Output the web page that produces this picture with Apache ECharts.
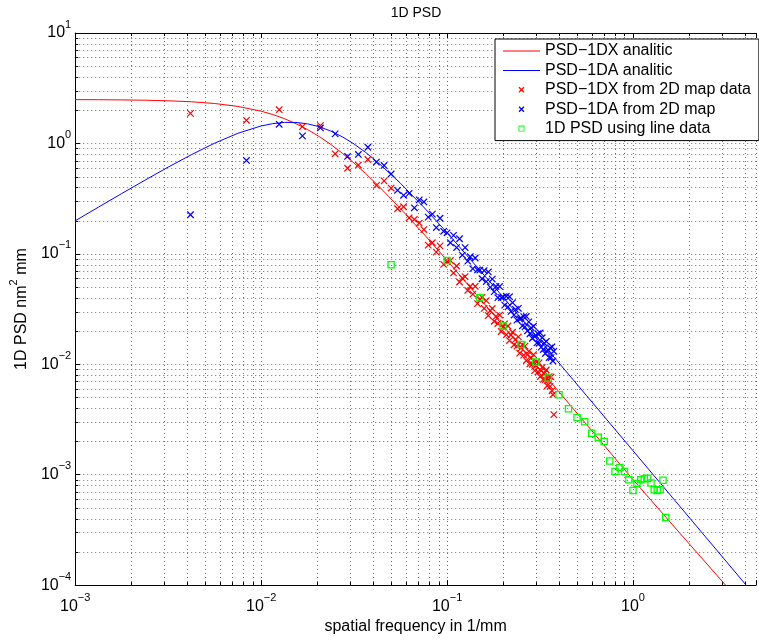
<!DOCTYPE html>
<html>
<head>
<meta charset="utf-8">
<script src="https://cdn.jsdelivr.net/npm/echarts@6/dist/echarts.min.js"></script>
<style>html,body{margin:0;padding:0;background:#fff;}#c{width:759px;height:640px;}</style>
</head>
<body>
<div id="c"></div>
<script>
// ---------- data ----------
const X_MIN = 0.001, X_MAX = 4.587, Y_MIN = 1e-4, Y_MAX = 10;

// analytic curves (sampled)
const lineFreq = [0.001, 0.001334, 0.001778, 0.002371, 0.003162, 0.004217, 0.005623, 0.0075, 0.01, 0.01155, 0.01334, 0.0154, 0.01778, 0.02054, 0.02371, 0.02738, 0.03162, 0.03652, 0.04217, 0.05623, 0.075, 0.1, 0.1778, 0.3162, 0.5623, 1, 1.778, 3.162, 5.0];
const psdXAnalitic = [2.493, 2.488, 2.478, 2.462, 2.433, 2.383, 2.299, 2.163, 1.958, 1.826, 1.675, 1.509, 1.333, 1.153, 0.978, 0.813, 0.663, 0.533, 0.422, 0.256, 0.151, 0.0871, 0.0282, 0.00899, 0.00285, 0.000902, 0.000298, 0.000099, 0.000041];
const psdAAnalitic = [0.1993, 0.265, 0.3515, 0.4646, 0.610, 0.791, 1.0055, 1.236, 1.440, 1.511, 1.550, 1.549, 1.504, 1.417, 1.293, 1.146, 0.987, 0.828, 0.680, 0.4347, 0.264, 0.1553, 0.05116, 0.01639, 0.005203, 0.001648, 0.0005214, 0.0001649, 0.0000657];

// 2D map derived points
const mapFreq = [0.004167, 0.008333, 0.0125, 0.01667, 0.02083, 0.025, 0.02917, 0.03333, 0.0375, 0.04167,
  0.04583, 0.05, 0.05417, 0.05833, 0.0625, 0.06667, 0.07083, 0.075, 0.07917, 0.08333,
  0.0875, 0.09167, 0.09583, 0.1, 0.1042, 0.1083, 0.1125, 0.1167, 0.1208, 0.125,
  0.1292, 0.1333, 0.1375, 0.1417, 0.1458, 0.15, 0.1542, 0.1583, 0.1625, 0.1667,
  0.1708, 0.175, 0.1792, 0.1833, 0.1875, 0.1917, 0.1958, 0.2, 0.2042, 0.2083,
  0.2125, 0.2167, 0.2208, 0.225, 0.2292, 0.2333, 0.2375, 0.2417, 0.2458, 0.25,
  0.2542, 0.2583, 0.2625, 0.2667, 0.2708, 0.275, 0.2792, 0.2833, 0.2875, 0.2917,
  0.2958, 0.3, 0.3042, 0.3083, 0.3125, 0.3167, 0.3208, 0.325, 0.3292, 0.3333,
  0.3375, 0.3417, 0.3458, 0.35, 0.3542, 0.3583, 0.3625, 0.3667, 0.3708, 0.375];
const psdXMap = [1.87, 1.62, 2.02, 1.42, 1.45, 0.805, 0.596, 0.637, 0.716, 0.417,
  0.458, 0.394, 0.256, 0.267, 0.212, 0.205, 0.19, 0.166, 0.120, 0.126,
  0.1036, 0.118, 0.0803, 0.0845, 0.0869, 0.0671, 0.0776, 0.0556, 0.0603, 0.0622,
  0.0466, 0.0508, 0.0431, 0.0508, 0.0354, 0.0383, 0.0404, 0.0320, 0.0377, 0.0276,
  0.0305, 0.0320, 0.0245, 0.0271, 0.0234, 0.0279, 0.0198, 0.0217, 0.0232, 0.0185,
  0.0222, 0.0164, 0.0184, 0.0195, 0.0150, 0.0168, 0.0146, 0.0177, 0.0126, 0.0140,
  0.0150, 0.0121, 0.0146, 0.0108, 0.0122, 0.0131, 0.0101, 0.0114, 0.0100, 0.0122,
  0.00876, 0.00969, 0.0105, 0.00851, 0.0103, 0.00771, 0.00874, 0.00936, 0.00730, 0.00826,
  0.00727, 0.00887, 0.00639, 0.00713, 0.00774, 0.00631, 0.00767, 0.00575, 0.0053, 0.0035];
const psdAMap = [0.226, 0.701, 1.49, 1.17, 1.38, 1.22, 0.762, 0.794, 0.923, 0.678,
  0.632, 0.529, 0.376, 0.339, 0.353, 0.261, 0.308, 0.295, 0.215, 0.229,
  0.173, 0.210, 0.160, 0.155, 0.126, 0.147, 0.114, 0.137, 0.0975, 0.114,
  0.0858, 0.0941, 0.0734, 0.0917, 0.0715, 0.0713, 0.0595, 0.0706, 0.0561, 0.0686,
  0.0498, 0.0591, 0.0454, 0.0506, 0.0401, 0.0507, 0.0402, 0.0406, 0.0343, 0.0413,
  0.0331, 0.0409, 0.0301, 0.0361, 0.0279, 0.0314, 0.0251, 0.0321, 0.0257, 0.0261,
  0.0223, 0.0270, 0.0218, 0.0271, 0.0201, 0.0242, 0.0189, 0.0214, 0.0172, 0.0221,
  0.0178, 0.0182, 0.0156, 0.0189, 0.0155, 0.0192, 0.0143, 0.0174, 0.0136, 0.0155,
  0.0125, 0.0161, 0.0130, 0.0134, 0.0115, 0.0141, 0.0115, 0.0144, 0.0107, 0.0131];

// 1D line data
const lineDataFreq = [0.05, 0.10, 0.15, 0.20, 0.25, 0.30, 0.35, 0.40, 0.45, 0.50,
  0.55, 0.60, 0.65, 0.70, 0.75, 0.80, 0.85, 0.90, 0.95, 1.00,
  1.05, 1.10, 1.15, 1.20, 1.25, 1.30, 1.35, 1.40, 1.45, 1.50];
const psdLine = [0.0796, 0.0871, 0.0401, 0.0222, 0.0151, 0.0105, 0.0075, 0.0053, 0.00396, 0.0033,
  0.00301, 0.00237, 0.00218, 0.0020, 0.00133, 0.00107, 0.00116, 0.00107, 0.0009, 0.00072,
  0.00083, 0.0009, 0.00092, 0.00093, 0.00084, 0.00073, 0.00072, 0.00073, 0.00089, 0.00041];

// minor grid positions
const xMinor = [0.002, 0.003, 0.004, 0.005, 0.006, 0.007, 0.008, 0.009,
  0.02, 0.03, 0.04, 0.05, 0.06, 0.07, 0.08, 0.09,
  0.2, 0.3, 0.4, 0.5, 0.6, 0.7, 0.8, 0.9, 2, 3, 4];
const yMinor = [0.0002, 0.0003, 0.0004, 0.0005, 0.0006, 0.0007, 0.0008, 0.0009,
  0.002, 0.003, 0.004, 0.005, 0.006, 0.007, 0.008, 0.009,
  0.02, 0.03, 0.04, 0.05, 0.06, 0.07, 0.08, 0.09,
  0.2, 0.3, 0.4, 0.5, 0.6, 0.7, 0.8, 0.9,
  2, 3, 4, 5, 6, 7, 8, 9];

const legendNames = ['PSD\u22121DX analitic', 'PSD\u22121DA analitic', 'PSD\u22121DX from 2D map data', 'PSD\u22121DA from 2D map', '1D PSD using line data'];

// ---------- styling ----------
const FONT = '"Liberation Sans", Arial, Helvetica, sans-serif';
const GRID_COLOR = '#6e6e6e';
const GRID_DASH = [1, 3];
const X_SYMBOL = 'path://M0,0M14,14M3.6,4.4L4.4,3.6L10.4,9.6L9.6,10.4ZM9.6,3.6L10.4,4.4L4.4,10.4L3.6,9.6Z';
const SQ_SYMBOL = 'path://M0,0M14,14M3.5,3.5L10.5,3.5L10.5,10.5L3.5,10.5ZM4.7,4.7L4.7,9.3L9.3,9.3L9.3,4.7Z';
const X_ICON = 'path://M0,0M37,14M16.45,4.05L21.45,9.05L20.55,9.95L15.55,4.95ZM20.55,4.05L21.45,4.95L16.45,9.95L15.55,9.05Z';
const SQ_ICON = 'path://M0,0M37,14M15.5,4L21.5,4L21.5,10L15.5,10ZM16.4,4.9L16.4,9.1L20.6,9.1L20.6,4.9Z';
const LINE_ICON = 'path://M0,0M37,14M0,6.5L37,6.5L37,7.5L0,7.5Z';

function zip(a, b) { return a.map((v, i) => [v, b[i]]); }

function powLabel(v) {
  const l = Math.log10(v);
  const e = Math.round(l);
  if (Math.abs(l - e) > 1e-6) return '';
  return '{b|10}{s|' + (e < 0 ? '\u2212' + (-e) : String(e)) + '}';
}
const labelRich = {
  b: { fontSize: 16, fontFamily: FONT, color: '#000', padding: [6, 0, 6, 0] },
  s: { fontSize: 11, fontFamily: FONT, color: '#000', verticalAlign: 'top' }
};

function vMinor(params, api) {
  const v = api.value(0);
  const pb = api.coord([v, Y_MIN]);
  const pt = api.coord([v, Y_MAX]);
  const x = Math.round(pb[0]) + 0.5;
  return { type: 'group', children: [
    { type: 'line', shape: { x1: x, y1: pt[1], x2: x, y2: pb[1] }, style: { stroke: GRID_COLOR, lineWidth: 1, lineDash: GRID_DASH } },
    { type: 'line', shape: { x1: x, y1: pb[1], x2: x, y2: pb[1] - 3 }, style: { stroke: '#000', lineWidth: 1 } },
    { type: 'line', shape: { x1: x, y1: pt[1], x2: x, y2: pt[1] + 3 }, style: { stroke: '#000', lineWidth: 1 } }
  ] };
}
function hMinor(params, api) {
  const v = api.value(1);
  const pl = api.coord([X_MIN, v]);
  const pr = api.coord([X_MAX, v]);
  const y = Math.round(pl[1]) + 0.5;
  return { type: 'group', children: [
    { type: 'line', shape: { x1: pl[0], y1: y, x2: pr[0], y2: y }, style: { stroke: GRID_COLOR, lineWidth: 1, lineDash: GRID_DASH } },
    { type: 'line', shape: { x1: pl[0], y1: y, x2: pl[0] + 3, y2: y }, style: { stroke: '#000', lineWidth: 1 } }
  ] };
}

const axisCommon = {
  type: 'log', logBase: 10,
  axisLine: { show: true, lineStyle: { color: '#000', width: 1 } },
  axisTick: { show: true, inside: true, length: 5, lineStyle: { color: '#000', width: 1 } },
  minorTick: { show: false },
  splitLine: { show: true, lineStyle: { color: GRID_COLOR, width: 1, type: GRID_DASH } }
};

const chart = echarts.init(document.getElementById('c'), null, { renderer: 'canvas' });
chart.setOption({
  animation: false,
  backgroundColor: '#fff',
  textStyle: { fontFamily: FONT },
  graphic: [{
    type: 'text', x: 416, y: 13,
    style: { text: '1D PSD', fontSize: 14, fontFamily: FONT, fill: '#000', textAlign: 'center', textVerticalAlign: 'middle' }
  }],
  grid: { left: 69, top: 33, width: 690, height: 559, containLabel: false },
  xAxis: [
    Object.assign({}, axisCommon, {
      min: X_MIN, max: X_MAX, position: 'bottom',
      axisLabel: { formatter: powLabel, rich: labelRich, margin: 7, color: '#000' },
      name: 'spatial frequency in 1/mm', nameLocation: 'middle', nameGap: 25,
      nameTextStyle: { fontSize: 16, fontFamily: FONT, color: '#000' }
    }),
    Object.assign({}, axisCommon, {
      min: X_MIN, max: X_MAX, position: 'top',
      axisLabel: { show: false }, splitLine: { show: false }
    })
  ],
  yAxis: [
    Object.assign({}, axisCommon, {
      min: Y_MIN, max: Y_MAX, position: 'left',
      axisLabel: { formatter: powLabel, rich: labelRich, margin: 4, color: '#000', align: 'right' },
      name: '{n|1D PSD nm}{s|2}{n| mm}', nameLocation: 'middle', nameGap: 44,
      nameTextStyle: { rich: {
        n: { fontSize: 16, fontFamily: FONT, color: '#000', padding: [6, 0, 0, 0] },
        s: { fontSize: 11, fontFamily: FONT, color: '#000', verticalAlign: 'top' }
      } }
    })
  ],
  legend: {
    orient: 'vertical', left: 495, top: 39,
    padding: [4, 8, 4, 8],
    itemWidth: 37, itemHeight: 14, itemGap: 3.4,
    backgroundColor: '#fff', borderColor: '#000', borderWidth: 1, borderRadius: 0,
    selectedMode: false,
    textStyle: { fontSize: 16, fontFamily: FONT, color: '#000' },
    data: [
      { name: legendNames[0], icon: LINE_ICON },
      { name: legendNames[1], icon: LINE_ICON },
      { name: legendNames[2], icon: X_ICON },
      { name: legendNames[3], icon: X_ICON },
      { name: legendNames[4], icon: SQ_ICON }
    ]
  },
  series: [
    { type: 'custom', name: 'xminor', silent: true, z: 1, renderItem: vMinor, data: xMinor.map(v => [v, 1]) },
    { type: 'custom', name: 'yminor', silent: true, z: 1, renderItem: hMinor, data: yMinor.map(v => [1, v]) },
    { type: 'line', name: legendNames[0], data: zip(lineFreq, psdXAnalitic), showSymbol: false, symbol: 'none',
      lineStyle: { color: '#ff0000', width: 1 }, itemStyle: { color: '#ff0000' }, z: 3 },
    { type: 'line', name: legendNames[1], data: zip(lineFreq, psdAAnalitic), showSymbol: false, symbol: 'none',
      lineStyle: { color: '#0000ff', width: 1 }, itemStyle: { color: '#0000ff' }, z: 3 },
    { type: 'scatter', name: legendNames[2], data: zip(mapFreq, psdXMap), symbol: X_SYMBOL, symbolSize: 15,
      itemStyle: { color: '#ff0000', opacity: 1 }, z: 4 },
    { type: 'scatter', name: legendNames[3], data: zip(mapFreq, psdAMap), symbol: X_SYMBOL, symbolSize: 15,
      itemStyle: { color: '#0000ff', opacity: 1 }, z: 4 },
    { type: 'scatter', name: legendNames[4], data: zip(lineDataFreq, psdLine), symbol: SQ_SYMBOL, symbolSize: 15,
      itemStyle: { color: '#00ff00', opacity: 1 }, z: 5 }
  ]
});
</script>
</body>
</html>
